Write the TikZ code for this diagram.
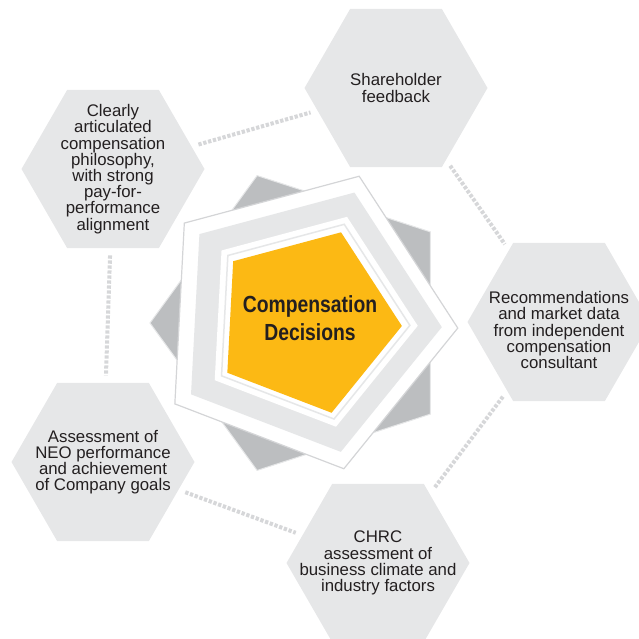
\documentclass[tikz,border=0pt]{standalone}
\usepackage{fontspec}
\setmainfont{Liberation Sans}
\newfontfamily\condfont{Liberation Sans}[FakeStretch=0.83]
\usetikzlibrary{shapes.geometric}

\definecolor{hexgray}{HTML}{E6E7E8}
\definecolor{darkgray}{HTML}{BCBEC0}
\definecolor{linegray}{HTML}{D4D5D7}
\definecolor{conngray}{HTML}{D6D7D9}
\definecolor{gold}{HTML}{FCB914}
\definecolor{txtdark}{HTML}{231F20}

\begin{document}
\begin{tikzpicture}[x=1pt,y=-1pt,
    hexa/.style={regular polygon, regular polygon sides=6, minimum size=183pt, inner sep=0pt, fill=hexgray},
    hextxt/.style={align=center, text=txtdark, inner sep=0pt, font=\fontsize{16.8}{16.2}\selectfont},
    pent/.style={regular polygon, regular polygon sides=5, inner sep=0pt, shape border rotate=-93},
    conn/.style={draw=conngray, line width=4pt, dash pattern=on 3.3pt off 1.7pt, shorten <=7pt, shorten >=7pt}]
        \useasboundingbox (0,0) rectangle (639,639);
        \clip (0,0) rectangle (639,639);

        % --- Draw the five input hexagons ---
        \node[hexa] (philo) at (113,169) {};
        \node[hexa] (share) at (396,88) {};
        \node[hexa] (advice) at (559,322) {};
        \node[hexa] (neo) at (103,462) {};
        \node[hexa] (chrc) at (378,563) {};
        % ---

        % --- Draw dotted links between hexagons ---
        \draw[conn] (philo) -- (share);
        \draw[conn] (share) -- (advice);
        \draw[conn] (advice) -- (chrc);
        \draw[conn] (neo) -- (chrc);
        \draw[conn] (philo) -- (neo);
        % ---

        % --- Draw texts of hexagons ---
        \node[hextxt] (philo-t) at (philo) {Clearly\\articulated\\compensation\\philosophy,\\with strong\\pay-for-\\performance\\alignment};
        \node[hextxt] (share-t) at (share) {Shareholder\\feedback};
        \node[hextxt] (advice-t) at (559,330) {Recommendations\\and market data\\from independent\\compensation\\consultant};
        \node[hextxt] (neo-t) at (neo) {Assessment of\\NEO performance\\and achievement\\of Company goals};
        \node[hextxt] (chrc-t) at (chrc) {CHRC\\assessment of\\business climate and\\industry factors};
        % ---

        % --- Draw center pentagons ---
        \node[pent, shape border rotate=90, minimum size=310pt, fill=darkgray, draw=hexgray, line width=1pt] (back) at (305,323) {};
        \node[pent, minimum size=308pt, fill=white, draw=linegray, line width=1.2pt] (outer) at (304,320) {};
        \node[pent, minimum size=273pt, fill=hexgray] (band) at (305.5,320) {};
        \node[pent, minimum size=221pt, fill=white] (gap) at (307.4,320) {};
        \node[pent, minimum size=205pt, draw=hexgray, line width=1.5pt] (ring) at (307.5,320) {};
        \node[pent, minimum size=190pt, fill=gold] (core) at (307,321) {};
        \node[align=center, text=txtdark, font=\condfont\bfseries\fontsize{23.3}{28.3}\selectfont] (dec) at (310,318) {Compensation\\Decisions};
        % ---
    \end{tikzpicture}
\end{document}
